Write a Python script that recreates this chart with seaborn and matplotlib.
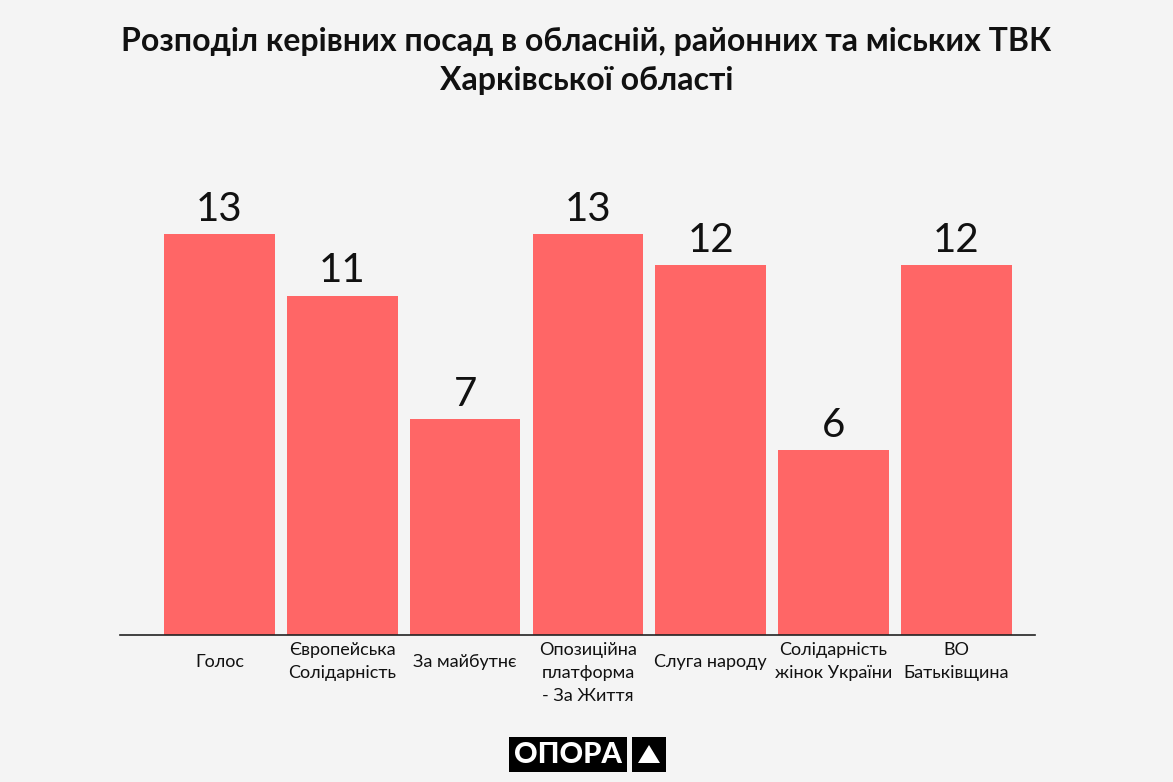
import matplotlib.pyplot as plt
import matplotlib.transforms as mtransforms
from matplotlib.patches import Rectangle, Polygon
import seaborn as sns
import pandas as pd

parties = ["Голос", "Європейська\nСолідарність", "За майбутнє", "Опозиційна\nплатформа\n- За Життя",
           "Слуга народу", "Солідарність\nжінок України", "ВО\nБатьківщина"]
posts = [13, 11, 7, 13, 12, 6, 12]

df = pd.DataFrame({"party": parties, "posts": posts})

bg = "#F4F4F4"
bar_color = "#FF6666"

sns.set_style("white")
plt.rcParams["font.family"] = ["Lato", "DejaVu Sans"]

W, H = 1173, 782
fig = plt.figure(figsize=(W / 100, H / 100), dpi=100, facecolor=bg)
ax = fig.add_axes([120 / W, 147 / H, 915 / W, 485 / H])
ax.set_facecolor(bg)

sns.barplot(data=df, x="party", y="posts", color=bar_color, saturation=1, width=0.9,
            linewidth=0, ax=ax)

for i, v in enumerate(posts):
    ax.text(i, v + 0.2, str(v), ha="center", va="bottom", fontsize=29, color="#111111")

ax.set_xlim(-0.81, 6.64)
ax.set_ylim(0, 485 / 30.85)
ax.set_xlabel("")
ax.set_ylabel("")
ax.set_yticks([])
ax.tick_params(axis="x", length=0, pad=5, labelsize=13, colors="#111111")
for lab in ax.get_xticklabels():
    lab.set_linespacing(1.55)
    if "\n" not in lab.get_text():
        lab.set_transform(lab.get_transform() +
                          mtransforms.ScaledTranslation(0, -12 / 100, fig.dpi_scale_trans))
for s in ["top", "right", "left"]:
    ax.spines[s].set_visible(False)
ax.spines["bottom"].set_color("#222222")
ax.spines["bottom"].set_linewidth(1.2)

fig.text(0.5, 1 - 61 / H, "Розподіл керівних посад в обласній, районних та міських ТВК\nХарківської області",
         ha="center", va="center", fontsize=23, fontweight="bold", color="#111111", linespacing=1.4)

# logo
fig.patches.append(Rectangle((509 / W, 1 - 772 / H), 118 / W, 35 / H, transform=fig.transFigure,
                             facecolor="black", edgecolor="none"))
fig.patches.append(Rectangle((632 / W, 1 - 772 / H), 34 / W, 35 / H, transform=fig.transFigure,
                             facecolor="black", edgecolor="none"))
fig.patches.append(Polygon([(638 / W, 1 - 763 / H), (660 / W, 1 - 763 / H), (649 / W, 1 - 745 / H)],
                           closed=True, transform=fig.transFigure, facecolor="white", edgecolor="none"))
fig.text(568 / W, 1 - 755 / H, "ОПОРА", ha="center", va="center", fontsize=21, fontweight="black",
         color="white")

fig.savefig("out.png", dpi=100, facecolor=bg)
